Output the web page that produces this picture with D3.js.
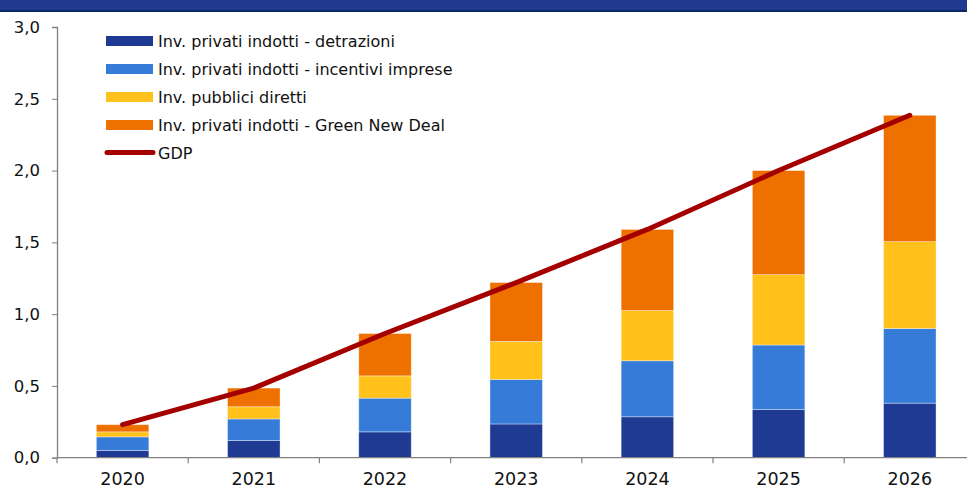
<!DOCTYPE html>
<html>
<head>
<meta charset="utf-8">
<script src="https://cdn.jsdelivr.net/npm/d3@7"></script>
<style>
  body { margin: 0; background: #fff; }
  svg { display: block; font-family: "DejaVu Sans", sans-serif; }
</style>
</head>
<body>
<div id="viz-container"></div>
<script>
// data
let years = ['2020', '2021', '2022', '2023', '2024', '2025', '2026'];
let detrazioni = [0.05, 0.12, 0.18, 0.235, 0.285, 0.335, 0.38];
let incentivi = [0.095, 0.15, 0.235, 0.31, 0.39, 0.45, 0.52];
let pubblici = [0.035, 0.085, 0.155, 0.265, 0.35, 0.49, 0.605];
let greenNewDeal = [0.05, 0.13, 0.295, 0.41, 0.565, 0.725, 0.88];
let gdp = [0.23, 0.485, 0.865, 1.22, 1.59, 2.0, 2.385];
let yTicks = [0, 0.5, 1, 1.5, 2, 2.5, 3];

let seriesNames = [
  'Inv. privati indotti - detrazioni',
  'Inv. privati indotti - incentivi imprese',
  'Inv. pubblici diretti',
  'Inv. privati indotti - Green New Deal'
];
let seriesKeys = ['det', 'inc', 'pub', 'gnd'];
let colors = ['#1f3a93', '#377bd9', '#ffc11a', '#ee7100'];
let gdpColor = '#a50000';

let table = years.map((y, i) => ({
  year: y,
  det: detrazioni[i],
  inc: incentivi[i],
  pub: pubblici[i],
  gnd: greenNewDeal[i]
}));

let W = 967, H = 489;

let viz = d3.select('#viz-container')
  .append('svg')
    .attr('width', W)
    .attr('height', H);

// banner at the top (cut off in the picture)
viz.append('rect')
  .attr('x', 0).attr('y', 0).attr('width', W).attr('height', 10)
  .attr('fill', '#1f3a8f');
viz.append('rect')
  .attr('x', 0).attr('y', 10).attr('width', W).attr('height', 2)
  .attr('fill', '#0b2764');

let x = d3.scaleBand()
  .domain(years)
  .range([57, 975.4])
  .paddingInner(0.6)
  .paddingOuter(0.3);

let y = d3.scaleLinear()
  .domain([0, 3])
  .range([457.7, 27]);

let stack = d3.stack().keys(seriesKeys);
let stacked = stack(table);

// bars
viz.append('g')
  .selectAll('g')
  .data(stacked)
  .enter()
  .append('g')
    .attr('fill', (d, i) => colors[i])
  .selectAll('rect')
  .data(d => d)
  .enter()
  .append('rect')
    .attr('x', d => x(d.data.year))
    .attr('y', d => y(d[1]))
    .attr('width', x.bandwidth())
    .attr('height', d => y(d[0]) - y(d[1]))
    .attr('stroke', '#ffffff')
    .attr('stroke-opacity', 0.45)
    .attr('stroke-width', 0.8);

// y axis
let yAxis = d3.axisLeft(y)
  .tickValues(yTicks)
  .tickSize(5)
  .tickPadding(12)
  .tickFormat(d3.format('.1f'));

let yG = viz.append('g')
  .attr('transform', 'translate(57,0)')
  .call(yAxis);
yG.selectAll('text')
  .text(d => d3.format('.1f')(d).replace('.', ','))
  .attr('font-size', 16.5)
  .attr('font-family', '"DejaVu Sans", sans-serif')
  .attr('fill', '#111');
yG.select('.domain').attr('stroke', '#808080').attr('stroke-width', 1.3);
yG.selectAll('.tick line').attr('stroke', '#808080');

// x axis line and ticks between categories
viz.append('line')
  .attr('x1', 57).attr('x2', W)
  .attr('y1', y(0)).attr('y2', y(0))
  .attr('stroke', '#808080')
  .attr('stroke-width', 1.3);

let step = x.step();
let boundaries = years.map(d => x(d) + x.bandwidth() / 2 - step / 2);
viz.append('g')
  .selectAll('line')
  .data(boundaries)
  .enter()
  .append('line')
    .attr('x1', d => d).attr('x2', d => d)
    .attr('y1', y(0)).attr('y2', y(0) + 5.5)
    .attr('stroke', '#808080')
    .attr('stroke-width', 1.2);

viz.append('g')
  .selectAll('text')
  .data(years)
  .enter()
  .append('text')
    .attr('x', d => x(d) + x.bandwidth() / 2)
    .attr('y', 485)
    .attr('text-anchor', 'middle')
    .attr('font-size', 17.5)
    .attr('fill', '#111')
    .text(d => d);

// GDP line
let line = d3.line()
  .x((d, i) => x(years[i]) + x.bandwidth() / 2)
  .y(d => y(d));

viz.append('path')
  .datum(gdp)
  .attr('d', line)
  .attr('fill', 'none')
  .attr('stroke', gdpColor)
  .attr('stroke-width', 5)
  .attr('stroke-linecap', 'round')
  .attr('stroke-linejoin', 'round');

// legend
let legend = viz.append('g');
seriesNames.forEach((name, i) => {
  let cy = 41 + i * 28;
  legend.append('rect')
    .attr('x', 106).attr('y', cy - 5)
    .attr('width', 47).attr('height', 10)
    .attr('fill', colors[i]);
  legend.append('text')
    .attr('x', 158).attr('y', cy + 6)
    .attr('font-size', 16)
    .attr('fill', '#111')
    .text(name);
});
let gy = 41 + 4 * 28 - 0.5;
legend.append('line')
  .attr('x1', 107).attr('x2', 153)
  .attr('y1', gy).attr('y2', gy)
  .attr('stroke', gdpColor)
  .attr('stroke-width', 5)
  .attr('stroke-linecap', 'round');
legend.append('text')
  .attr('x', 158).attr('y', gy + 6)
  .attr('font-size', 16)
  .attr('fill', '#111')
  .text('GDP');
</script>
</body>
</html>
